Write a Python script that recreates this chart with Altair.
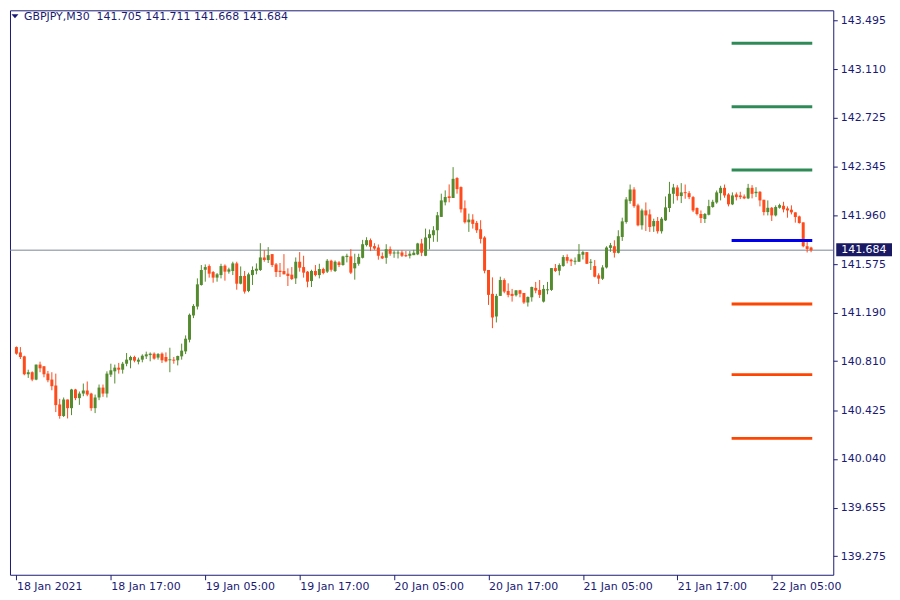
import altair as alt
import pandas as pd

# ---------------- data ----------------
symbol = "GBPJPY"
timeframe = "M30"

opens = [
    140.921, 140.879, 140.848, 140.707, 140.723, 140.665, 140.783, 140.770, 140.712, 140.665,
    140.618, 140.469, 140.378, 140.508, 140.440, 140.587, 140.519, 140.555, 140.579, 140.555,
    140.440, 140.524, 140.602, 140.555, 140.704, 140.730, 140.759, 140.743, 140.790, 140.817,
    140.843, 140.806, 140.822, 140.848, 140.858, 140.869, 140.838, 140.869, 140.843, 140.817,
    140.820, 140.817, 140.848, 140.887, 140.979, 141.170, 141.240, 141.410, 141.530, 141.559,
    141.512, 141.468, 141.488, 141.562, 141.515, 141.520, 141.580, 141.420, 141.481, 141.363,
    141.488, 141.522, 141.528, 141.627, 141.606, 141.653, 141.572, 141.522, 141.520, 141.499,
    141.491, 141.462, 141.593, 141.551, 141.515, 141.441, 141.520, 141.488, 141.536, 141.515,
    141.601, 141.520, 141.588, 141.567, 141.630, 141.635, 141.541, 141.577, 141.624, 141.724,
    141.763, 141.716, 141.705, 141.637, 141.624, 141.692, 141.658, 141.658, 141.666, 141.645,
    141.640, 141.645, 141.651, 141.737, 141.640, 141.779, 141.802, 141.841, 141.946, 142.061,
    142.108, 142.095, 142.252, 142.181, 142.014, 141.904, 141.925, 141.899, 141.849, 141.784,
    141.528, 141.340, 141.162, 141.324, 141.449, 141.363, 141.340, 141.329, 141.368, 141.347,
    141.272, 141.313, 141.387, 141.371, 141.279, 141.368, 141.371, 141.543, 141.522, 141.559,
    141.630, 141.609, 141.593, 141.593, 141.648, 141.669, 141.585, 141.559, 141.486, 141.459,
    141.548, 141.702, 141.715, 141.663, 141.788, 141.906, 142.071, 142.162, 142.037, 141.880,
    141.997, 141.966, 141.872, 141.914, 141.833, 141.919, 142.016, 142.128, 142.178, 142.110,
    142.139, 142.133, 142.102, 142.016, 141.969, 141.930, 141.963, 142.024, 142.060, 142.133,
    142.175, 142.123, 142.045, 142.123, 142.115, 142.107, 142.092, 142.175, 142.133, 142.144,
    142.081, 141.984, 142.018, 141.958, 142.018, 142.034, 142.013, 142.003, 141.982, 141.950,
    141.903, 141.715, 141.705,
]
highs = [
    140.926, 140.921, 140.853, 140.743, 140.730, 140.783, 140.806, 140.770, 140.733, 140.723,
    140.712, 140.513, 140.524, 140.508, 140.592, 140.592, 140.571, 140.634, 140.650, 140.561,
    140.547, 140.626, 140.626, 140.730, 140.790, 140.783, 140.796, 140.804, 140.874, 140.853,
    140.853, 140.838, 140.864, 140.885, 140.879, 140.879, 140.874, 140.879, 140.879, 140.916,
    140.843, 140.853, 140.948, 141.013, 141.185, 141.259, 141.462, 141.567, 141.572, 141.572,
    141.520, 141.504, 141.577, 141.572, 141.546, 141.593, 141.593, 141.556, 141.520, 141.507,
    141.556, 141.580, 141.739, 141.684, 141.708, 141.653, 141.583, 141.583, 141.653, 141.541,
    141.551, 141.627, 141.669, 141.640, 141.520, 141.530, 141.567, 141.577, 141.546, 141.614,
    141.609, 141.603, 141.598, 141.640, 141.656, 141.692, 141.656, 141.656, 141.765, 141.786,
    141.776, 141.739, 141.729, 141.666, 141.731, 141.713, 141.682, 141.684, 141.682, 141.677,
    141.677, 141.687, 141.742, 141.773, 141.854, 141.847, 141.873, 141.985, 142.129, 142.155,
    142.202, 142.338, 142.259, 142.186, 142.076, 141.972, 141.967, 141.914, 141.920, 141.794,
    141.528, 141.470, 141.340, 141.475, 141.462, 141.423, 141.379, 141.368, 141.371, 141.347,
    141.319, 141.397, 141.434, 141.449, 141.410, 141.434, 141.543, 141.575, 141.580, 141.645,
    141.651, 141.617, 141.627, 141.732, 141.679, 141.669, 141.614, 141.606, 141.502, 141.566,
    141.715, 141.741, 141.762, 141.841, 141.940, 142.102, 142.201, 142.180, 142.050, 142.011,
    142.060, 142.005, 141.932, 141.945, 141.945, 142.107, 142.222, 142.206, 142.196, 142.212,
    142.201, 142.149, 142.110, 142.021, 141.997, 141.977, 142.081, 142.081, 142.154, 142.191,
    142.201, 142.133, 142.139, 142.139, 142.144, 142.123, 142.206, 142.196, 142.180, 142.149,
    142.081, 142.076, 142.024, 142.037, 142.050, 142.065, 142.029, 142.037, 141.982, 141.956,
    141.903, 141.757, 141.711,
]
lows = [
    140.861, 140.827, 140.699, 140.678, 140.652, 140.660, 140.723, 140.683, 140.644, 140.581,
    140.409, 140.357, 140.370, 140.359, 140.385, 140.503, 140.466, 140.534, 140.534, 140.419,
    140.401, 140.503, 140.529, 140.524, 140.686, 140.634, 140.712, 140.712, 140.770, 140.754,
    140.801, 140.785, 140.801, 140.827, 140.809, 140.822, 140.822, 140.796, 140.801, 140.723,
    140.790, 140.777, 140.822, 140.866, 140.958, 141.149, 141.217, 141.405, 141.436, 141.468,
    141.428, 141.436, 141.462, 141.444, 141.499, 141.488, 141.373, 141.415, 141.342, 141.353,
    141.410, 141.494, 141.520, 141.593, 141.583, 141.551, 141.473, 141.473, 141.494, 141.402,
    141.449, 141.418, 141.515, 141.468, 141.392, 141.394, 141.478, 141.462, 141.494, 141.504,
    141.515, 141.512, 141.551, 141.562, 141.588, 141.496, 141.452, 141.562, 141.619, 141.713,
    141.677, 141.687, 141.609, 141.614, 141.577, 141.640, 141.624, 141.619, 141.630, 141.630,
    141.619, 141.645, 141.645, 141.637, 141.637, 141.690, 141.750, 141.750, 141.946, 142.037,
    142.061, 142.095, 142.129, 141.980, 141.894, 141.828, 141.854, 141.820, 141.737, 141.502,
    141.253, 141.070, 141.115, 141.324, 141.345, 141.313, 141.279, 141.319, 141.313, 141.261,
    141.240, 141.279, 141.345, 141.308, 141.272, 141.337, 141.363, 141.512, 141.486, 141.554,
    141.580, 141.559, 141.570, 141.593, 141.611, 141.575, 141.528, 141.470, 141.418, 141.449,
    141.540, 141.671, 141.626, 141.658, 141.757, 141.893, 142.050, 142.018, 141.872, 141.846,
    141.835, 141.828, 141.828, 141.815, 141.815, 141.914, 141.984, 142.050, 142.076, 142.055,
    142.089, 142.086, 141.984, 141.958, 141.898, 141.898, 141.958, 142.018, 142.050, 142.076,
    142.097, 142.029, 142.039, 142.076, 142.086, 142.086, 142.086, 142.092, 142.102, 142.029,
    141.958, 141.958, 141.914, 141.950, 142.011, 141.982, 141.940, 141.966, 141.901, 141.893,
    141.707, 141.666, 141.668,
]
closes = [
    140.869, 140.843, 140.707, 140.723, 140.665, 140.783, 140.754, 140.707, 140.660, 140.613,
    140.464, 140.378, 140.508, 140.440, 140.587, 140.519, 140.555, 140.579, 140.547, 140.440,
    140.524, 140.602, 140.555, 140.712, 140.738, 140.759, 140.743, 140.790, 140.822, 140.843,
    140.814, 140.822, 140.853, 140.864, 140.869, 140.830, 140.866, 140.817, 140.809, 140.822,
    140.814, 140.851, 140.893, 140.987, 141.175, 141.245, 141.415, 141.528, 141.551, 141.499,
    141.468, 141.494, 141.559, 141.515, 141.533, 141.580, 141.420, 141.481, 141.358, 141.494,
    141.528, 141.538, 141.627, 141.606, 141.645, 141.567, 141.512, 141.512, 141.494, 141.481,
    141.457, 141.593, 141.546, 141.507, 141.436, 141.520, 141.488, 141.536, 141.504, 141.601,
    141.530, 141.593, 141.567, 141.635, 141.640, 141.507, 141.583, 141.630, 141.731, 141.763,
    141.711, 141.697, 141.640, 141.619, 141.692, 141.656, 141.664, 141.664, 141.640, 141.637,
    141.656, 141.664, 141.737, 141.664, 141.784, 141.810, 141.841, 141.959, 142.076, 142.103,
    142.095, 142.246, 142.165, 142.006, 141.904, 141.925, 141.891, 141.841, 141.773, 141.522,
    141.332, 141.154, 141.324, 141.449, 141.358, 141.332, 141.324, 141.368, 141.340, 141.272,
    141.316, 141.394, 141.366, 141.332, 141.379, 141.376, 141.543, 141.520, 141.567, 141.630,
    141.601, 141.596, 141.598, 141.653, 141.669, 141.577, 141.590, 141.475, 141.460, 141.548,
    141.705, 141.723, 141.663, 141.794, 141.911, 142.084, 142.162, 142.031, 141.880, 141.997,
    141.958, 141.867, 141.914, 141.833, 141.932, 142.021, 142.128, 142.178, 142.110, 142.139,
    142.133, 142.102, 141.997, 141.969, 141.937, 141.969, 142.031, 142.065, 142.139, 142.175,
    142.115, 142.045, 142.115, 142.102, 142.102, 142.092, 142.175, 142.128, 142.144, 142.076,
    141.984, 142.018, 141.958, 142.024, 142.039, 142.005, 141.997, 141.982, 141.945, 141.898,
    141.715, 141.694, 141.684,
]

tick_bars = [0, 24, 48, 72, 96, 120, 144, 168, 192]
tick_labels = ["18 Jan 2021", "18 Jan 17:00", "19 Jan 05:00", "19 Jan 17:00",
               "20 Jan 05:00", "20 Jan 17:00", "21 Jan 05:00", "21 Jan 17:00",
               "22 Jan 05:00"]
price_ticks = [139.275, 139.655, 140.040, 140.425, 140.810, 141.190,
               141.575, 141.960, 142.345, 142.725, 143.110, 143.495]

level_names = ["R3", "R2", "R1", "P", "S1", "S2", "S3"]
level_prices = [143.313, 142.813, 142.315, 141.760, 141.261, 140.704, 140.202]
level_kinds = ["res", "res", "res", "pivot", "sup", "sup", "sup"]
level_start_bar = 181.8
level_end_bar = 202.3

# ---------------- styling ----------------
NAVY = "#1a1a73"
BOX = "#191964"
UP = "#558B2F"
DOWN = "#FF4A1C"
GRAY = "#7A8594"
FONT = "DejaVu Sans"

W, H = 827, 567
x_dom = [-0.375, 206.375]
y_dom = [139.128, 143.573]

n = len(closes)
candles = pd.DataFrame({
    "idx": list(range(n)),
    "o": opens, "h": highs, "l": lows, "c": closes,
})
candles["dir"] = ["up" if c >= o else "down" for o, c in zip(opens, closes)]

levels = pd.DataFrame({
    "name": level_names, "price": level_prices, "kind": level_kinds,
    "x0": [level_start_bar] * len(level_names),
    "x1": [level_end_bar] * len(level_names),
})

current_price = closes[-1]
cur = pd.DataFrame({"price": [current_price], "label": [f"{current_price:.3f}"]})
title_text = (f"{symbol},{timeframe}\u00a0\u00a0{opens[-1]:.3f} {highs[-1]:.3f} "
              f"{lows[-1]:.3f} {closes[-1]:.3f}")
title_df = pd.DataFrame({"t": [title_text]})

labels_js = "[" + ",".join(f"'{t}'" for t in tick_labels) + "]"
bars_js = "[" + ",".join(str(b) for b in tick_bars) + "]"

x_scale = alt.Scale(domain=x_dom, nice=False, zero=False)
y_scale = alt.Scale(domain=y_dom, nice=False, zero=False)

x_axis = alt.Axis(values=tick_bars, labelExpr=f"{labels_js}[indexof({bars_js}, datum.value)]",
                  orient="bottom", domain=False, grid=False, tickSize=5, tickColor=NAVY,
                  labelColor=NAVY, labelFont=FONT, labelFontSize=11, labelAlign="left",
                  labelBaseline="top", labelPadding=1, labelFlush=False, labelOverlap=False,
                  title=None)
y_axis = alt.Axis(values=price_ticks, format=".3f", orient="right", domain=False, grid=False,
                  tickSize=4, tickColor=NAVY, labelColor=NAVY, labelFont=FONT, labelFontSize=11,
                  labelPadding=3, labelOverlap=False, labelFlush=False, title=None)

color_dir = alt.Color("dir:N", scale=alt.Scale(domain=["up", "down"], range=[UP, DOWN]), legend=None)

wicks = alt.Chart(candles).mark_rule(strokeWidth=1).encode(
    x=alt.X("idx:Q", scale=x_scale, axis=x_axis),
    y=alt.Y("l:Q", scale=y_scale, axis=y_axis),
    y2="h:Q",
    color=color_dir,
)

bodies = alt.Chart(candles).transform_calculate(
    bot="min(datum.o, datum.c)",
    top="max(max(datum.o, datum.c), min(datum.o, datum.c) + 0.008)",
).mark_bar(size=3).encode(
    x=alt.X("idx:Q", scale=x_scale, axis=x_axis),
    y=alt.Y("bot:Q", scale=y_scale, axis=y_axis),
    y2="top:Q",
    color=color_dir,
)

cur_line = alt.Chart(cur).mark_rule(color=GRAY, strokeWidth=1).encode(
    y=alt.Y("price:Q", scale=y_scale, axis=y_axis),
)

level_lines = alt.Chart(levels).mark_rule(strokeWidth=3, strokeCap="butt").encode(
    x=alt.X("x0:Q", scale=x_scale, axis=x_axis),
    x2="x1:Q",
    y=alt.Y("price:Q", scale=y_scale, axis=y_axis),
    color=alt.Color("kind:N", scale=alt.Scale(domain=["res", "pivot", "sup"],
                                               range=["#2E8B57", "#0000F0", "#FF4500"]),
                    legend=None),
)

box = alt.Chart(cur).mark_rect(color=BOX, yOffset=-7, y2Offset=6).encode(
    x=alt.value(W + 3), x2=alt.value(W + 59),
    y=alt.Y("price:Q", scale=y_scale, axis=y_axis),
    y2="price:Q",
)
box_text = alt.Chart(cur).mark_text(align="left", baseline="middle", color="white",
                                    font=FONT, fontSize=11).encode(
    x=alt.value(W + 8),
    y=alt.Y("price:Q", scale=y_scale, axis=y_axis),
    text="label:N",
)

tri = alt.Chart(title_df).mark_point(shape="M-1,-0.55L1,-0.55L0,0.55Z", filled=True,
                                     size=49, color=NAVY, opacity=1).encode(
    x=alt.value(5), y=alt.value(6),
)
title = alt.Chart(title_df).mark_text(align="left", baseline="middle", color=NAVY,
                                      font=FONT, fontSize=11).encode(
    x=alt.value(14), y=alt.value(7), text="t:N",
)

chart = alt.layer(
    cur_line, wicks, bodies, level_lines, box, box_text, tri, title
).resolve_scale(color="independent").properties(
    width=W, height=H,
    padding={"left": 1, "top": 1, "right": 0, "bottom": 0},
    background="white",
).configure_view(stroke=NAVY, strokeWidth=1)

chart.save("out.html", embed_options={"renderer": "svg", "actions": False})
